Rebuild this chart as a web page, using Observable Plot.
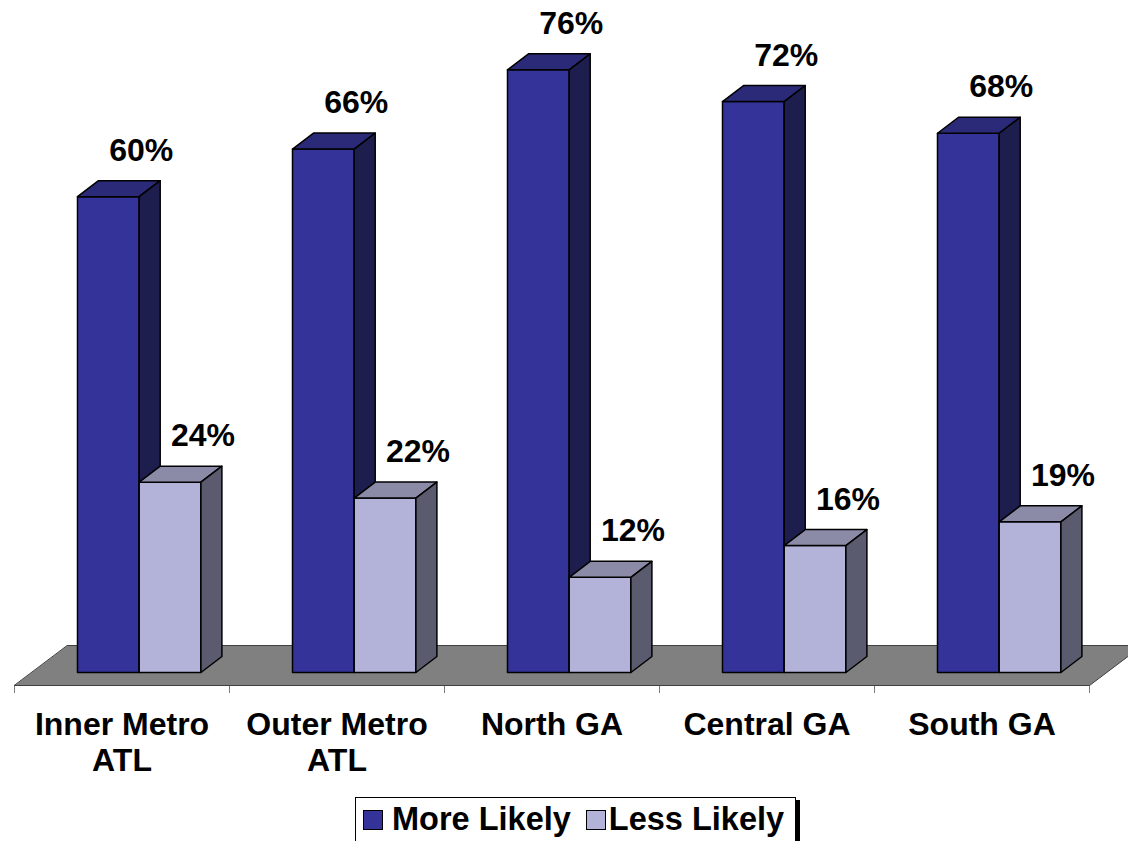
<!DOCTYPE html>
<html>
<head>
<meta charset="utf-8">
<script src="https://cdn.jsdelivr.net/npm/d3@7"></script>
<script src="https://cdn.jsdelivr.net/npm/@observablehq/plot@0.6"></script>
<style>
  html, body { margin: 0; padding: 0; background: #fff; overflow: hidden; }
  body { font-family: "Liberation Sans", Arial, sans-serif; width: 1128px; height: 841px; position: relative; }
  #legend {
    position: absolute; left: 355px; top: 797px;
    border: 1px solid #000; box-shadow: 4px 3px 0 #000; background: #fff;
    padding: 3px 11px 10px 7px; white-space: nowrap;
    font-size: 32.5px; font-weight: bold; line-height: 36px; color: #000;
  }
  #legend .sw { display: inline-block; width: 18px; height: 18px; border: 1px solid #000; vertical-align: baseline; }
</style>
</head>
<body>
<div id="chart"></div>
<div id="legend"></div>
<script>
// ---- data ----
const categories = ["Inner Metro\nATL", "Outer Metro\nATL", "North GA", "Central GA", "South GA"];
const moreLikely = [60, 66, 76, 72, 68];
const lessLikely = [24, 22, 12, 16, 19];
const seriesNames = ["More Likely", "Less Likely"];

// ---- styling / projection ----
const frontColors = ["#333399", "#b3b3d9"];
const topColors = ["#2a2a78", "#8b8ba8"];
const sideColors = ["#1d1d4e", "#5b5b6f"];
const pxPerUnitX = 215, pxPerPct = 7.93;
const barOffset = 63 / pxPerUnitX, barW = 61.7 / pxPerUnitX;
const depX = 21 / pxPerUnitX, depY = 16 / pxPerPct;
const floorFront = -13 / pxPerPct, floorBack = 27 / pxPerPct, floorDepX = 53 / pxPerUnitX;

const series = [moreLikely, lessLikely];
const faces = series.map((values, s) => {
  const front = [], top = [], side = [];
  values.forEach((v, i) => {
    const x0 = i + barOffset + s * barW, x1 = x0 + barW, id = s + "-" + i;
    front.push({id, x: x0, y: 0}, {id, x: x1, y: 0}, {id, x: x1, y: v}, {id, x: x0, y: v});
    top.push({id, x: x0, y: v}, {id, x: x1, y: v}, {id, x: x1 + depX, y: v + depY}, {id, x: x0 + depX, y: v + depY});
    side.push({id, x: x1, y: 0}, {id, x: x1 + depX, y: depY}, {id, x: x1 + depX, y: v + depY}, {id, x: x1, y: v});
  });
  return {front, top, side};
});

const n = categories.length;
const floor = [
  {x: 0, y: floorFront}, {x: n, y: floorFront},
  {x: n + floorDepX, y: floorBack}, {x: floorDepX, y: floorBack}
];

const labels = [];
series.forEach((values, s) => values.forEach((v, i) => labels.push({i, s, v})));

const font = "Liberation Sans, Arial, sans-serif";
const marks = [
  Plot.line(floor, {x: "x", y: "y", fill: "#808080", stroke: "#404040", strokeWidth: 1, curve: "linear-closed"})
];
faces.forEach((f, s) => {
  marks.push(
    Plot.line(f.front, {x: "x", y: "y", z: "id", fill: frontColors[s], stroke: "#000", strokeWidth: 1.5, curve: "linear-closed"}),
    Plot.line(f.top, {x: "x", y: "y", z: "id", fill: topColors[s], stroke: "#000", strokeWidth: 1.5, curve: "linear-closed"}),
    Plot.line(f.side, {x: "x", y: "y", z: "id", fill: sideColors[s], stroke: "#000", strokeWidth: 1.5, curve: "linear-closed"})
  );
});
marks.push(
  Plot.text(labels, {
    x: d => d.i + barOffset + (d.s + 1) * barW, y: d => d.v + depY,
    text: d => d.v + "%", dx: 2, dy: -20, lineAnchor: "bottom",
    fontSize: 32, fontWeight: "bold", fontFamily: font, fill: "#000"
  }),
  Plot.text(categories, {
    x: (d, i) => i + 0.5, y: () => 0, text: d => d,
    lineAnchor: "top", dy: 36, lineHeight: 1.15,
    fontSize: 32, fontWeight: "bold", fontFamily: font, fill: "#000"
  })
);

const chart = Plot.plot({
  width: 1128, height: 795,
  marginLeft: 14, marginRight: 39, marginTop: 0, marginBottom: 110,
  style: {color: "#7a7a7a", background: "#fff", fontFamily: font},
  x: {domain: [0, n], range: [14, 1089], ticks: d3.range(n + 1), tickSize: 8, tickFormat: () => "", line: true, label: null},
  y: {domain: [0, 80], range: [672, 672 - 80 * pxPerPct], axis: null},
  marks
});
document.getElementById("chart").appendChild(chart);

// ---- legend ----
const legend = document.getElementById("legend");
legend.innerHTML = seriesNames.map((name, s) =>
  `<span class="sw" style="background:${frontColors[s]};margin-left:${s ? 15 : 0}px;margin-right:${s ? 3 : 9}px"></span><span>${name}</span>`
).join("");
</script>
</body>
</html>
